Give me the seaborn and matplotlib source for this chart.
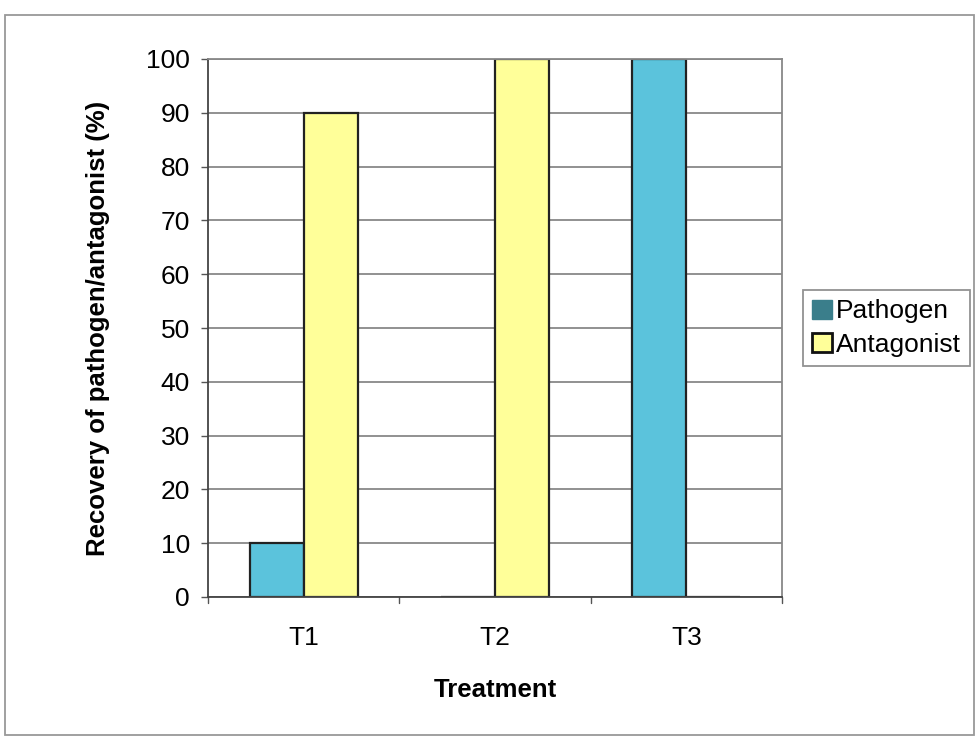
import matplotlib
matplotlib.use("Agg")
import matplotlib.pyplot as plt
from matplotlib.patches import Patch, Rectangle
import pandas as pd
import seaborn as sns

# Recovery data per treatment
treatments = ["T1", "T2", "T3"]
pathogen = [10, 0, 100]
antagonist = [90, 100, 0]
series_names = ["Pathogen", "Antagonist"]
y_ticks = [0, 10, 20, 30, 40, 50, 60, 70, 80, 90, 100]

df = pd.DataFrame({
    "Treatment": treatments * 2,
    "Recovery": pathogen + antagonist,
    "Series": [series_names[0]] * 3 + [series_names[1]] * 3,
})

sns.set_theme(style="white")
plt.rcParams["font.family"] = ["Liberation Sans", "DejaVu Sans"]
plt.rcParams["text.color"] = "black"
plt.rcParams["axes.labelcolor"] = "black"
plt.rcParams["xtick.color"] = "black"
plt.rcParams["ytick.color"] = "black"

fig = plt.figure(figsize=(9.76, 7.37), dpi=100)
ax = fig.add_axes([208 / 976, 1 - 597 / 737, (782 - 208) / 976, (597 - 59) / 737])

bar_colors = {"Pathogen": "#5bc3dc", "Antagonist": "#ffff99"}
sns.barplot(data=df, x="Treatment", y="Recovery", hue="Series",
            palette=bar_colors, width=0.565, edgecolor="#222222",
            linewidth=1.6, saturation=1, ax=ax, legend=False)

ax.set_ylim(0, 100)
ax.set_xlim(-0.5, 2.5)
ax.set_yticks(y_ticks)
ax.set_yticklabels([str(v) for v in y_ticks], fontsize=19)
ax.set_xticks([0, 1, 2])
ax.set_xticklabels(treatments, fontsize=19)
ax.tick_params(axis="x", length=0, pad=21)
ax.tick_params(axis="y", length=5, width=1, color="#555555", direction="out", pad=8, left=True)

# category boundary ticks along the x-axis
for xb in [-0.5, 0.5, 1.5, 2.5]:
    ax.plot([xb, xb], [0, -1.2], color="#555555", lw=1, clip_on=False)

ax.yaxis.grid(True, color="#888888", linewidth=1.3)
ax.set_axisbelow(True)
for side, sp in ax.spines.items():
    sp.set_visible(True)
    sp.set_color("#888888")
    sp.set_linewidth(1.3)
ax.spines["left"].set_color("#444444")
ax.spines["bottom"].set_color("#444444")

ax.set_ylabel("Recovery of pathogen/antagonist (%)", fontsize=18.5,
              fontweight="bold", labelpad=26)
ax.set_xlabel("Treatment", fontsize=18.5, fontweight="bold", labelpad=20)

handles = [
    Patch(facecolor="#3a7e8b", edgecolor="#3a7e8b", label=series_names[0]),
    Patch(facecolor="#ffff99", edgecolor="#111111", linewidth=2, label=series_names[1]),
]
leg = fig.legend(handles=handles, loc="center left",
                 bbox_to_anchor=(803 / 976, 1 - 328 / 737), fontsize=19,
                 frameon=True, fancybox=False, borderpad=0.35,
                 handlelength=0.75, handleheight=0.75, handletextpad=0.15,
                 labelspacing=0.35, borderaxespad=0)
leg.get_frame().set_edgecolor("#777777")
leg.get_frame().set_linewidth(1.3)

# outer chart border
fig.patches.append(Rectangle((5 / 976, 2 / 737), 969 / 976, 720 / 737,
                             transform=fig.transFigure, fill=False,
                             edgecolor="#999999", linewidth=1.3))

fig.savefig("out.png", dpi=100)
